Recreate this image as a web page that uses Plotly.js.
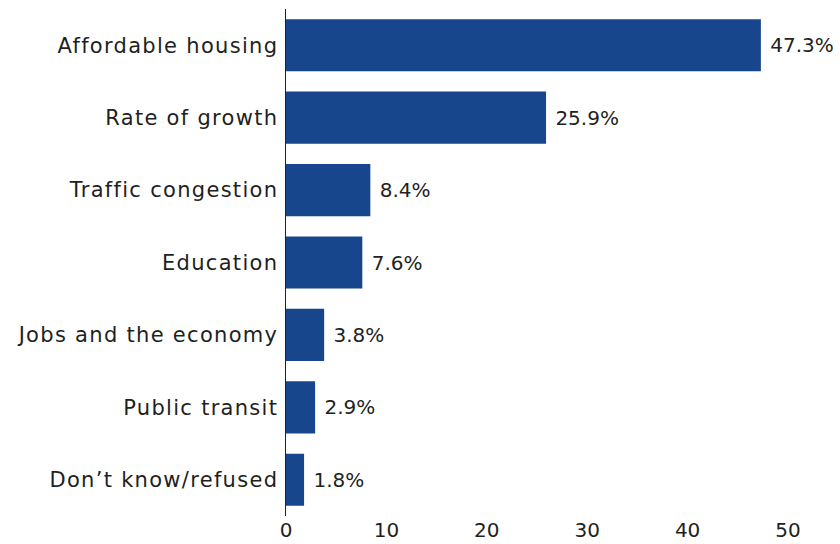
<!DOCTYPE html>
<html>
<head>
<meta charset="utf-8">
<script src="https://cdn.plot.ly/plotly-3.0.1.min.js"></script>
<style>
html,body{margin:0;padding:0;background:#fff;}
#chart{width:840px;height:544px;}
#chart .ytick text{letter-spacing:1.3px;}
</style>
</head>
<body>
<div id="chart"></div>
<script>
const categories = ["Affordable housing", "Rate of growth", "Traffic congestion", "Education", "Jobs and the economy", "Public transit", "Don\u2019t know/refused"];
const values = [47.3, 25.9, 8.4, 7.6, 3.8, 2.9, 1.8];
const valueLabels = ["47.3%", "25.9%", "8.4%", "7.6%", "3.8%", "2.9%", "1.8%"];
const xTicks = [0, 10, 20, 30, 40, 50];

const FONT = "'DejaVu Sans', sans-serif";
const INK = "#231f20";

const trace = {
  type: "bar",
  orientation: "h",
  y: categories,
  x: values,
  text: valueLabels,
  texttemplate: "\u00a0%{text}",
  textposition: "outside",
  cliponaxis: false,
  constraintext: "none",
  textfont: {family: FONT, size: 20, color: INK},
  marker: {color: "#17468c"},
  hoverinfo: "none"
};

const layout = {
  width: 840, height: 544,
  margin: {l: 286, r: 52, t: 9, b: 28, pad: 0},
  paper_bgcolor: "#fff", plot_bgcolor: "#fff",
  bargap: 0.28,
  showlegend: false,
  font: {family: FONT, size: 20, color: INK},
  xaxis: {
    range: [0, 50], tickvals: xTicks, ticktext: xTicks.map(String),
    showgrid: false, zeroline: false, showline: false, ticks: "",
    ticklabelstandoff: 0,
    tickfont: {family: FONT, size: 20, color: INK}, fixedrange: true
  },
  yaxis: {
    autorange: "reversed", showgrid: false, zeroline: false,
    showline: true, linecolor: INK, linewidth: 1.5,
    ticks: "", ticklabelstandoff: 2,
    tickfont: {family: FONT, size: 21, color: INK}, fixedrange: true
  }
};

Plotly.newPlot("chart", [trace], layout, {displayModeBar: false, staticPlot: true});
</script>
</body>
</html>
